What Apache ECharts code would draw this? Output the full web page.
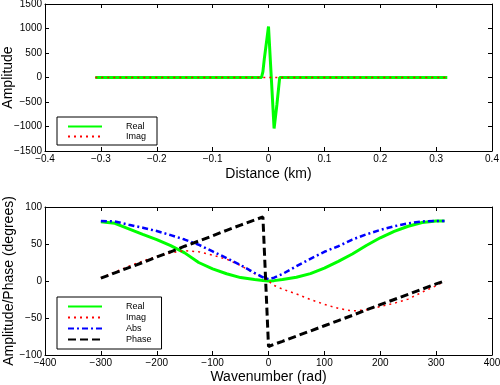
<!DOCTYPE html>
<html>
<head>
<meta charset="utf-8">
<script src="https://cdn.jsdelivr.net/npm/echarts@6/dist/echarts.min.js"></script>
<style>html,body{margin:0;padding:0;background:#fff}#c{width:500px;height:385px}</style>
</head>
<body>
<div id="c"></div>
<script>
// ---- Top panel data (Distance in km) ----
var topX     = [-0.31, -0.0125, -0.01, -0.0075, -0.005, -0.0025, 0, 0.005, 0.01, 0.015, 0.02, 0.32];
var topReal  = [0, 0, 120, 380, 600, 820, 1040, 0, -1040, -560, 0, 0];
var topImag  = [0, 0, 0, 0, 0, 0, 0, 0, 0, 0, 0, 0];

// ---- Bottom panel data (Wavenumber in rad) ----
var kX      = [-300,-275,-250,-225,-200,-175,-150,-125,-100,-75,-50,-25,-10,0,10,25,50,75,100,125,150,175,200,225,250,275,300,315];
var kReal   = [80,78,70.5,63,56,47.7,38,25,16.5,9.8,4.6,2,0.6,0,0.5,2,5,10,17.4,26.5,36.5,48,58.4,67,74,79,81,81];
var kImag   = [4,12,20,27,33,38,41,39.5,35,29.5,21,10,4,0,-6,-11,-17.5,-25,-31.5,-37,-40.5,-39,-34.5,-30,-24.5,-15,-6.5,-0.5];
var kAbs    = [81,80.5,76,72,67.5,62,56,49,40,31,21.5,11,5,2.5,4.5,9.5,20,30,39.5,47,56,63,69,74,78,80.5,81,81];
var kPhase  = [3.8,11,18,25,32.5,39.5,47,54,61,68.5,75.5,82.5,86.5,-88.5,-85.5,-81.5,-74.5,-67.5,-60.5,-53.5,-46.5,-39,-32,-25,-18,-11,-4,0];

var topTicks = {min: -0.4, max: 0.4, interval: 0.1};
var topYTicks = {min: -1500, max: 1500, interval: 500};
var botTicks = {min: -400, max: 400, interval: 100};
var botYTicks = {min: -100, max: 100, interval: 50};

function pairs(xs, ys) { return xs.map(function (x, i) { return [x, ys[i]]; }); }

var FONT = 'Liberation Sans, Arial, Helvetica, sans-serif';
function fmt(v) { return String(v).replace('-', '\u2212'); }

function axis(gridIndex, pos, t, showLabel, name, nameGap) {
  return {
    type: 'value', gridIndex: gridIndex, position: pos,
    min: t.min, max: t.max, interval: t.interval,
    axisLine: {show: true, onZero: false, lineStyle: {color: '#000', width: 1}},
    axisTick: {show: true, inside: true, length: 4, lineStyle: {color: '#000', width: 1}},
    splitLine: {show: false},
    axisLabel: {show: showLabel, color: '#000', fontSize: 10, fontFamily: FONT, margin: 3, formatter: fmt, showMinLabel: true, showMaxLabel: true, hideOverlap: false},
    name: name || '', nameLocation: 'middle', nameGap: nameGap || 0, nameMoveOverlap: false,
    nameTextStyle: {color: '#000', fontSize: 14, fontFamily: FONT}
  };
}

function legendOf(names, top, gap, pad) {
  return {
    data: names.map(function (n) { return {name: n}; }),
    orient: 'vertical', left: 57, top: top,
    itemWidth: 34, itemHeight: 8, itemGap: gap,
    padding: pad,
    borderColor: '#000', borderWidth: 1, borderRadius: 0, backgroundColor: '#fff',
    itemStyle: {opacity: 0},
    textStyle: {fontSize: 9, fontFamily: FONT, color: '#000', padding: [0, 0, 0, 19]},
    selectedMode: false
  };
}

var chart = echarts.init(document.getElementById('c'), null, {renderer: 'canvas'});
chart.setOption({
  animation: false,
  backgroundColor: '#fff',
  grid: [
    {left: 45, top: 4, width: 447, height: 147, containLabel: false, outerBoundsMode: 'none'},
    {left: 45, top: 207, width: 447, height: 148, containLabel: false, outerBoundsMode: 'none'}
  ],
  xAxis: [
    axis(0, 'bottom', topTicks, true, 'Distance (km)', 16),
    axis(0, 'top', topTicks, false),
    axis(1, 'bottom', botTicks, true, 'Wavenumber (rad)', 15),
    axis(1, 'top', botTicks, false)
  ],
  yAxis: [
    axis(0, 'left', topYTicks, true, 'Amplitude', 30),
    axis(0, 'right', topYTicks, false),
    axis(1, 'left', botYTicks, true, 'Amplitude/Phase (degrees)', 29),
    axis(1, 'right', botYTicks, false)
  ],
  legend: [
    legendOf(['Real', 'Imag'], 117, 1, [5, 11, 4, 10]),
    legendOf(['Real ', 'Imag ', 'Abs', 'Phase'], 297, 2, [5, 10, 5, 10])
  ],
  series: [
    {name: 'Real', type: 'line', xAxisIndex: 0, yAxisIndex: 0, data: pairs(topX, topReal),
     symbol: 'none', lineStyle: {color: '#00ff00', width: 3}, itemStyle: {color: '#00ff00'}},
    {name: 'Imag', type: 'line', xAxisIndex: 0, yAxisIndex: 0, data: pairs(topX, topImag),
     symbol: 'none', lineStyle: {color: '#ff0000', width: 1.5, type: [2, 4]}, itemStyle: {color: '#ff0000'}},
    {name: 'Real ', type: 'line', xAxisIndex: 2, yAxisIndex: 2, data: pairs(kX, kReal),
     symbol: 'none', lineStyle: {color: '#00ff00', width: 3}, itemStyle: {color: '#00ff00'}},
    {name: 'Imag ', type: 'line', xAxisIndex: 2, yAxisIndex: 2, data: pairs(kX, kImag),
     symbol: 'none', lineStyle: {color: '#ff0000', width: 1.5, type: [2, 4]}, itemStyle: {color: '#ff0000'}},
    {name: 'Abs', type: 'line', xAxisIndex: 2, yAxisIndex: 2, data: pairs(kX, kAbs),
     symbol: 'none', lineStyle: {color: '#0000ff', width: 2.5, type: [6, 3, 2, 3]}, itemStyle: {color: '#0000ff'}},
    {name: 'Phase', type: 'line', xAxisIndex: 2, yAxisIndex: 2, data: pairs(kX, kPhase),
     symbol: 'none', lineStyle: {color: '#000000', width: 3, type: [8, 4]}, itemStyle: {color: '#000000'}}
  ]
});
</script>
</body>
</html>
